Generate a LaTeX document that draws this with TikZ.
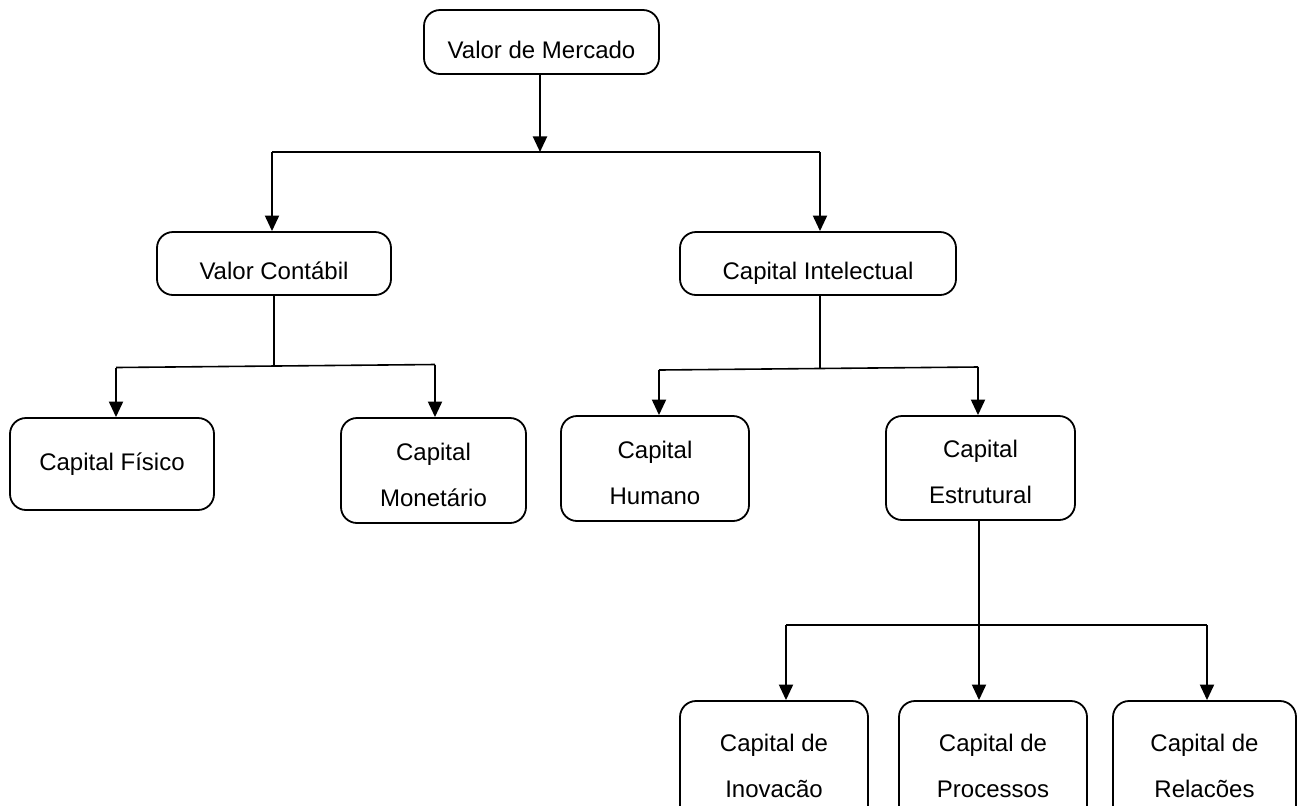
\documentclass[tikz,border=0pt]{standalone}
\usepackage{fontspec}
\setmainfont{Liberation Sans}
\usetikzlibrary{arrows.meta}
\newcommand\mystrut{\rule{0pt}{13pt}}
\begin{document}
\begin{tikzpicture}[x=0.5pt,y=-0.5pt,
  box/.style={draw, line width=0.9pt, rounded corners=8pt, inner sep=0pt, align=center, font=\fontsize{12}{23}\selectfont},
  one/.style={text height=16pt, text depth=0pt},
  ln/.style={line width=0.8pt},
  arr/.style={line width=1.1pt, -{Triangle[width=7pt,length=7.8pt]}}]
\useasboundingbox (0,0) rectangle (1302,805);
\clip (0,0) rectangle (1302,805);
% boxes
\node[box,one,minimum width=117.5pt,minimum height=32pt] (vm) at (541.5,42) {Valor de Mercado};
\node[box,one,minimum width=117pt,minimum height=31.5pt] (vc) at (274,263.5) {Valor Contábil};
\node[box,one,minimum width=138pt,minimum height=31.5pt] (ci) at (818,263.5) {Capital Intelectual};
\node[box,minimum width=102pt,minimum height=46pt] (cf) at (112,464) {Capital Físico};
\node[box,minimum width=92.5pt,minimum height=52.5pt] (cm) at (433.5,470.5) {\mystrut Capital\\Monetário};
\node[box,minimum width=94pt,minimum height=52.5pt] (ch) at (655,468.5) {\mystrut Capital\\Humano};
\node[box,minimum width=94.5pt,minimum height=52pt] (ce) at (980.5,468) {\mystrut Capital\\Estrutural};
\node[box,minimum width=94pt,minimum height=64.5pt] (cin) at (774,765.5) {Capital de\\Inovacão};
\node[box,minimum width=94pt,minimum height=64.5pt] (cp) at (993,765.5) {Capital de\\Processos};
\node[box,minimum width=91.5pt,minimum height=64.5pt] (cr) at (1204.5,765.5) {Capital de\\Relacões};
% junctions
\coordinate (t0) at (540,152);
\coordinate (tL) at (272,152);
\coordinate (tR) at (820,152);
\coordinate (a0) at (274,366);
\coordinate (aL) at (116,367.5);
\coordinate (aR) at (435,364.5);
\coordinate (b0) at (820,368.5);
\coordinate (bL) at (659,370);
\coordinate (bR) at (978,367);
\coordinate (c0) at (979,625);
\coordinate (cL) at (786,625);
\coordinate (cR) at (1207,625);
% connectors
\draw[arr] (vm.south -| t0) -- (t0);
\draw[ln] (tL) -- (tR);
\draw[arr] (tL) -- (tL |- vc.north);
\draw[arr] (tR) -- (tR |- ci.north);
\draw[ln] (vc.south -| a0) -- (a0);
\draw[ln] (aL) -- (aR);
\draw[arr] (aL) -- (aL |- cf.north);
\draw[arr] (aR) -- (aR |- cm.north);
\draw[ln] (ci.south -| b0) -- (b0);
\draw[ln] (bL) -- (bR);
\draw[arr] (bL) -- (bL |- ch.north);
\draw[arr] (bR) -- (bR |- ce.north);
\draw[ln] (ce.south -| c0) -- (c0);
\draw[ln] (cL) -- (cR);
\draw[arr] (cL) -- (cL |- cin.north);
\draw[arr] (c0) -- (c0 |- cp.north);
\draw[arr] (cR) -- (cR |- cr.north);
\end{tikzpicture}
\end{document}
